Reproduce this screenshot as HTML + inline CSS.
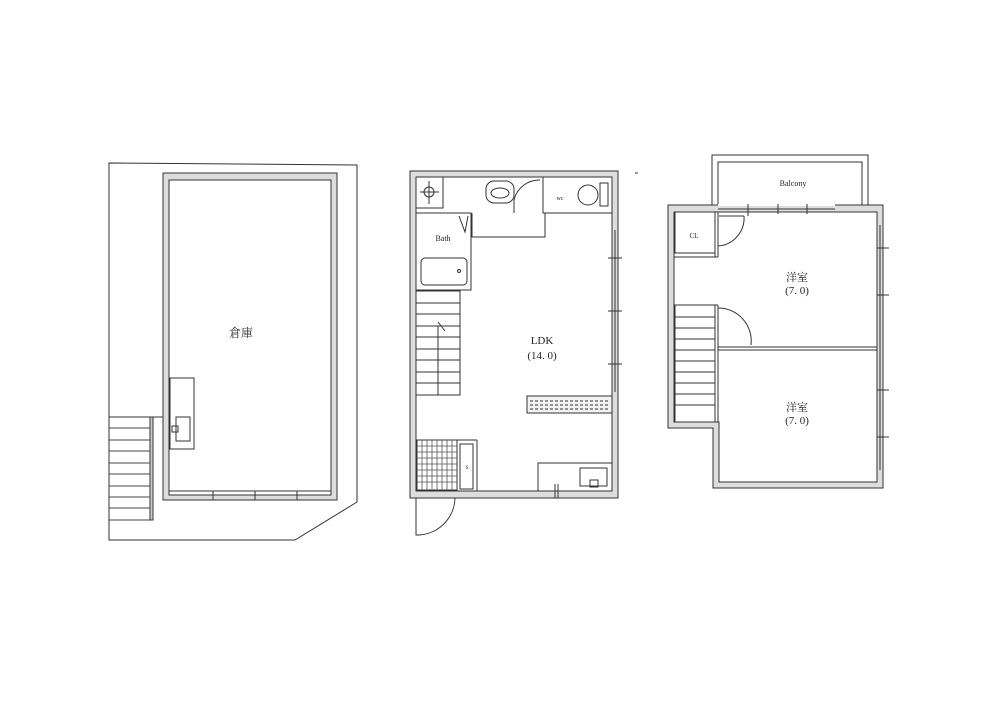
<!DOCTYPE html>
<html><head><meta charset="utf-8"><style>
html,body{margin:0;padding:0;background:#fff}
svg{display:block}
text{font-family:"Liberation Serif","Noto Serif CJK SC",serif;fill:#222}
</style></head><body>
<svg width="1000" height="706" viewBox="0 0 1000 706" xmlns="http://www.w3.org/2000/svg">
<g fill="none" stroke="#333" stroke-width="1">
<!-- PLAN 1 -->
<path d="M109,163 L357,165 L357,502 L295,540 L109,540 Z"/>
<rect x="163" y="173" width="174" height="327" fill="#ddd"/>
<rect x="169" y="180" width="162" height="315" fill="#fff"/>
<line x1="213" y1="491" x2="213" y2="500"/><line x1="255" y1="491" x2="255" y2="500"/><line x1="297" y1="491" x2="297" y2="500"/>
<line x1="169" y1="491" x2="331" y2="491"/>
<rect x="170" y="378" width="24" height="71"/>
<rect x="176" y="417" width="14" height="24"/>
<rect x="172" y="426" width="6" height="6"/>
<rect x="150" y="417" width="3" height="103" fill="#ccc"/>
<line x1="109" y1="417" x2="163" y2="417"/>
<g stroke="#444">
<line x1="109" y1="428" x2="150" y2="428"/><line x1="109" y1="440" x2="150" y2="440"/><line x1="109" y1="451" x2="150" y2="451"/><line x1="109" y1="463" x2="150" y2="463"/><line x1="109" y1="474" x2="150" y2="474"/><line x1="109" y1="486" x2="150" y2="486"/><line x1="109" y1="497" x2="150" y2="497"/><line x1="109" y1="508" x2="150" y2="508"/><line x1="109" y1="520" x2="150" y2="520"/>
</g>

<!-- PLAN 2 -->
<rect x="410" y="171" width="208" height="327" fill="#ddd"/>
<rect x="416" y="177" width="196" height="314" fill="#fff"/>
<rect x="416" y="177" width="27" height="31"/>
<line x1="429" y1="181" x2="429" y2="204"/><line x1="420" y1="192" x2="439" y2="192"/>
<circle cx="429" cy="192" r="5"/>
<rect x="486" y="181" width="28" height="22" rx="8"/>
<ellipse cx="500" cy="193" rx="9" ry="5"/>
<path d="M514,213 L514,200 A26,26 0 0 1 540,180"/>
<rect x="543" y="177" width="69" height="36"/>
<circle cx="588" cy="195" r="10"/><rect x="600" y="183" width="8" height="23"/>
<path d="M472,213 L472,237 L545,237 L545,213"/>
<rect x="416" y="213" width="55" height="77"/>
<path d="M459,216 L465,232 L468,216"/>
<rect x="421" y="258" width="46" height="27" rx="4"/>
<circle cx="459" cy="271" r="1.5"/>
<rect x="416" y="291" width="44" height="104"/>
<line x1="416" y1="303" x2="460" y2="303"/><line x1="416" y1="314" x2="460" y2="314"/><line x1="416" y1="326" x2="460" y2="326"/><line x1="416" y1="337" x2="460" y2="337"/><line x1="416" y1="349" x2="460" y2="349"/><line x1="416" y1="360" x2="460" y2="360"/><line x1="416" y1="372" x2="460" y2="372"/><line x1="416" y1="383" x2="460" y2="383"/>
<line x1="438" y1="326" x2="438" y2="395"/><line x1="438" y1="322" x2="445" y2="331"/>
<rect x="527" y="396" width="85" height="17" fill="#f2f2f2"/>
<line x1="530" y1="401" x2="610" y2="401" stroke-dasharray="3,2"/><line x1="530" y1="405" x2="610" y2="405" stroke-dasharray="3,2"/><line x1="530" y1="409" x2="610" y2="409" stroke-dasharray="3,2"/>
<line x1="612" y1="230" x2="612" y2="392"/><line x1="615" y1="230" x2="615" y2="392"/>
<line x1="608" y1="258" x2="622" y2="258"/><line x1="608" y1="311" x2="622" y2="311"/><line x1="608" y1="364" x2="622" y2="364"/>
<rect x="417" y="440" width="40" height="50"/>
<g stroke="#555" stroke-width="0.8">
<line x1="422" y1="440" x2="422" y2="490"/><line x1="427" y1="440" x2="427" y2="490"/><line x1="432" y1="440" x2="432" y2="490"/><line x1="437" y1="440" x2="437" y2="490"/><line x1="442" y1="440" x2="442" y2="490"/><line x1="447" y1="440" x2="447" y2="490"/><line x1="452" y1="440" x2="452" y2="490"/>
<line x1="417" y1="446" x2="457" y2="446"/><line x1="417" y1="452" x2="457" y2="452"/><line x1="417" y1="458" x2="457" y2="458"/><line x1="417" y1="464" x2="457" y2="464"/><line x1="417" y1="470" x2="457" y2="470"/><line x1="417" y1="476" x2="457" y2="476"/><line x1="417" y1="482" x2="457" y2="482"/>
</g>
<rect x="460" y="444" width="13" height="45"/>
<line x1="477" y1="440" x2="477" y2="491"/><line x1="457" y1="440" x2="477" y2="440"/>
<rect x="538" y="463" width="74" height="28"/>
<rect x="580" y="468" width="27" height="18"/>
<rect x="590" y="480" width="8" height="7"/>
<line x1="555" y1="484" x2="555" y2="498"/><line x1="558" y1="484" x2="558" y2="498"/>
<path d="M416,498 L416,535 A38,38 0 0 0 455,498"/>
<line x1="416" y1="535" x2="420" y2="535"/>

<!-- PLAN 3 -->
<rect x="712" y="155" width="156" height="50"/>
<rect x="718" y="162" width="144" height="43"/>
<path d="M668,205 L883,205 L883,488 L713,488 L713,428 L668,428 Z" fill="#ddd"/>
<path d="M674,212 L877,212 L877,482 L719,482 L719,422 L674,422 Z" fill="#fff"/>
<line x1="718" y1="205" x2="835" y2="205" stroke="#fff" stroke-width="2"/>
<line x1="718" y1="209" x2="835" y2="209"/><line x1="718" y1="212" x2="835" y2="212"/>
<line x1="748" y1="204" x2="748" y2="216"/><line x1="778" y1="204" x2="778" y2="214"/><line x1="807" y1="204" x2="807" y2="214"/>
<rect x="675" y="212" width="40" height="41"/>
<line x1="715" y1="253" x2="715" y2="257"/><line x1="674" y1="257" x2="718" y2="257"/><line x1="718" y1="212" x2="718" y2="257"/>
<line x1="719" y1="216" x2="744" y2="216"/>
<path d="M718,246 A28,28 0 0 0 744,216"/>
<rect x="675" y="305" width="40" height="117"/>
<line x1="718" y1="305" x2="718" y2="422"/><line x1="674" y1="305" x2="718" y2="305"/>
<line x1="675" y1="317" x2="715" y2="317"/><line x1="675" y1="328" x2="715" y2="328"/><line x1="675" y1="339" x2="715" y2="339"/><line x1="675" y1="350" x2="715" y2="350"/><line x1="675" y1="361" x2="715" y2="361"/><line x1="675" y1="372" x2="715" y2="372"/><line x1="675" y1="383" x2="715" y2="383"/><line x1="675" y1="394" x2="715" y2="394"/><line x1="675" y1="405" x2="715" y2="405"/>
<path d="M718,308 A33,33 0 0 1 751,345"/>
<line x1="718" y1="347" x2="877" y2="347"/><line x1="718" y1="350" x2="877" y2="350"/>
<line x1="877" y1="225" x2="877" y2="470"/><line x1="880" y1="225" x2="880" y2="470"/>
<line x1="877" y1="248" x2="889" y2="248"/><line x1="877" y1="295" x2="889" y2="295"/><line x1="877" y1="390" x2="889" y2="390"/><line x1="877" y1="437" x2="889" y2="437"/>
</g>
<text x="241" y="337" font-size="12" text-anchor="middle">倉庫</text>
<text x="443" y="241" font-size="8" text-anchor="middle">Bath</text>
<text x="560" y="200" font-size="6" text-anchor="middle">wc</text>
<text x="542" y="344" font-size="11" text-anchor="middle">LDK</text>
<text x="542" y="359" font-size="11" text-anchor="middle">(14. 0)</text>
<text x="793" y="186" font-size="8" text-anchor="middle">Balcony</text>
<text x="694" y="238" font-size="7" text-anchor="middle">CL</text>
<text x="797" y="281" font-size="11" text-anchor="middle">洋室</text>
<text x="797" y="294" font-size="11" text-anchor="middle">(7. 0)</text>
<text x="797" y="411" font-size="11" text-anchor="middle">洋室</text>
<text x="797" y="424" font-size="11" text-anchor="middle">(7. 0)</text>
<text x="467" y="469" font-size="5" text-anchor="middle">S</text>
<line x1="635" y1="173" x2="638" y2="173" stroke="#333"/>
</svg>
</body></html>
